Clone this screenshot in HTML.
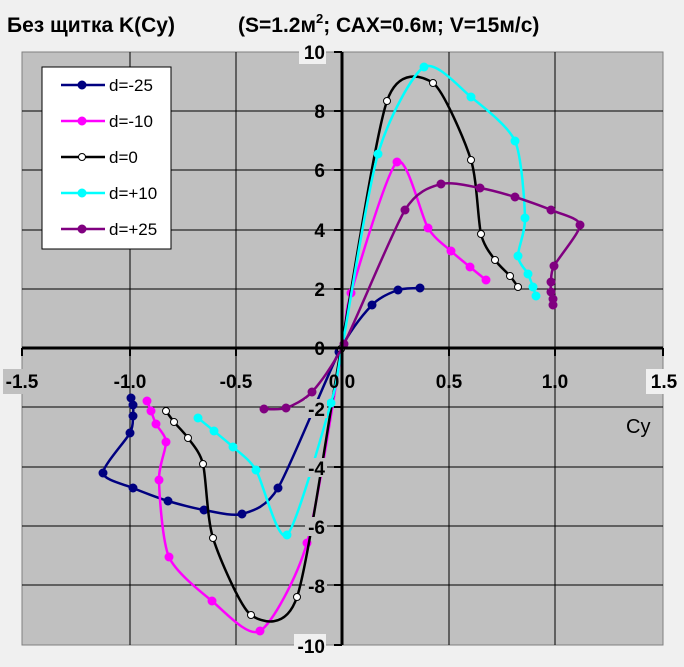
<!DOCTYPE html>
<html><head><meta charset="utf-8"><style>
html,body{margin:0;padding:0;background:#f0f0f0;}
svg{display:block;font-family:"Liberation Sans",Arial,sans-serif;}
</style></head><body>
<svg id="s" width="684" height="667" xmlns="http://www.w3.org/2000/svg">
<rect width="684" height="667" fill="#f0f0f0"/>
<text x="7" y="32" font-size="21" font-weight="bold">Без щитка K(Cy)</text>
<text x="238" y="32" font-size="21" font-weight="bold">(S=1.2м<tspan font-size="13" dy="-9">2</tspan><tspan dy="9">; САХ=0.6м; V=15м/с)</tspan></text>
<rect x="22" y="52" width="641" height="593" fill="#c0c0c0" stroke="#808080" stroke-width="1"/>
<g stroke="#000" stroke-width="1">
<line x1="130" y1="52" x2="130" y2="645"/><line x1="236" y1="52" x2="236" y2="645"/>
<line x1="449" y1="52" x2="449" y2="645"/><line x1="555" y1="52" x2="555" y2="645"/>
<line x1="22" y1="111" x2="663" y2="111"/><line x1="22" y1="170" x2="663" y2="170"/>
<line x1="22" y1="230" x2="663" y2="230"/><line x1="22" y1="289" x2="663" y2="289"/>
<line x1="22" y1="407" x2="663" y2="407"/><line x1="22" y1="467" x2="663" y2="467"/>
<line x1="22" y1="526" x2="663" y2="526"/><line x1="22" y1="585" x2="663" y2="585"/>
</g>
<g id="series"></g>
<g font-size="19" font-weight="bold" text-anchor="end">
<rect x="299" y="41" width="27" height="23" fill="#f0f0f0"/>
<text x="325" y="59">10</text>
<text x="325" y="118">8</text><text x="325" y="177">6</text><text x="325" y="237">4</text><text x="325" y="296">2</text><text x="325" y="355">0</text>
<rect x="305" y="399" width="22" height="19" fill="#c0c0c0"/><text x="325" y="416">-2</text>
<rect x="305" y="458" width="22" height="19" fill="#c0c0c0"/><text x="325" y="475">-4</text>
<rect x="305" y="517" width="22" height="19" fill="#c0c0c0"/><text x="325" y="534">-6</text>
<rect x="305" y="576" width="22" height="19" fill="#c0c0c0"/><text x="325" y="593">-8</text>
<rect x="294" y="634" width="32" height="24" fill="#f0f0f0"/><text x="325" y="653">-10</text>
</g>
<g font-size="19" font-weight="bold" text-anchor="middle">
<rect x="3" y="369" width="40" height="25" fill="#c0c0c0"/>
<text x="22" y="388">-1.5</text><text x="130" y="388">-1.0</text><text x="236" y="388">-0.5</text>
<text x="342" y="388">0.0</text><text x="449" y="388">0.5</text><text x="555" y="388">1.0</text>
<rect x="646" y="369" width="36" height="25" fill="#f0f0f0"/><text x="664" y="388">1.5</text>
</g>
<text x="626" y="433" font-size="20">Cy</text>
<g stroke="#000" stroke-width="3">
<line x1="342" y1="52" x2="342" y2="645"/><line x1="22" y1="348" x2="663" y2="348"/>
</g>
<g stroke="#000" stroke-width="2">
<line x1="22" y1="348" x2="22" y2="356"/><line x1="130" y1="348" x2="130" y2="356"/><line x1="236" y1="348" x2="236" y2="356"/>
<line x1="449" y1="348" x2="449" y2="356"/><line x1="555" y1="348" x2="555" y2="356"/><line x1="663" y1="348" x2="663" y2="356"/>
<line x1="334" y1="52" x2="342" y2="52"/><line x1="334" y1="111" x2="342" y2="111"/><line x1="334" y1="170" x2="342" y2="170"/>
<line x1="334" y1="230" x2="342" y2="230"/><line x1="334" y1="289" x2="342" y2="289"/><line x1="334" y1="407" x2="342" y2="407"/>
<line x1="334" y1="467" x2="342" y2="467"/><line x1="334" y1="526" x2="342" y2="526"/><line x1="334" y1="585" x2="342" y2="585"/>
<line x1="334" y1="645" x2="342" y2="645"/>
</g>
<rect x="42" y="67" width="129" height="182" fill="#fff" stroke="#000" stroke-width="1"/>
<g id="legend" font-size="17"></g>
</svg>
<script>
var NS="http://www.w3.org/2000/svg";
function el(t,a,p){var e=document.createElementNS(NS,t);for(var k in a)e.setAttribute(k,a[k]);p.appendChild(e);return e;}
function smooth(p){var d="M"+p[0][0]+","+p[0][1];for(var i=0;i<p.length-1;i++){var p0=p[i-1]||p[i],p1=p[i],p2=p[i+1],p3=p[i+2]||p2;var t=8;
d+=" C"+(p1[0]+(p2[0]-p0[0])/t)+","+(p1[1]+(p2[1]-p0[1])/t)+" "+(p2[0]-(p3[0]-p1[0])/t)+","+(p2[1]-(p3[1]-p1[1])/t)+" "+p2[0]+","+p2[1];}return d;}
var S=[
["#000080",false,"d=-25",[[131,398],[133,405],[133,416],[130,433],[103,473],[133,488],[168,501],[204,510],[242,514],[278,488],[339,352],[372,305],[398,290],[420,288]]],
["#ff00ff",false,"d=-10",[[147,401],[151,411],[156,424],[166,442],[159,480],[169,557],[212,601],[260,631],[307,543],[342,348],[351,293],[397,162],[428,228],[451,251],[470,267],[486,280]]],
["#000000",true,"d=0",[[166,411],[174,422],[188,438],[203,464],[213,538],[251,615],[297,597],[341,349],[387,101],[433,83],[471,160],[481,234],[495,260],[510,276],[518,287]]],
["#00ffff",false,"d=+10",[[198,418],[214,431],[233,447],[256,470],[287,535],[331,403],[342,348],[378,154],[424,67],[471,97],[515,141],[525,218],[518,256],[528,274],[533,287],[536,296]]],
["#800080",false,"d=+25",[[264,409],[286,408],[312,392],[344,344],[405,210],[441,184],[480,188],[515,197],[551,210],[580,225],[554,266],[551,282],[551,292],[553,299],[553,305]]]
];
var g=document.getElementById("series"),lg=document.getElementById("legend");
S.forEach(function(s,i){
 el("path",{d:smooth(s[3]),fill:"none",stroke:s[0],"stroke-width":2.5},g);
 s[3].forEach(function(p){ if(p[0]==342&&p[1]==348)return;
  el("circle",{cx:p[0],cy:p[1],r:s[1]?3.5:4,fill:s[1]?"#fff":s[0],stroke:s[1]?"#000":s[0],"stroke-width":1},g);});
 var y=85+36*i;
 el("line",{x1:61,y1:y,x2:105,y2:y,stroke:s[0],"stroke-width":2.5},lg);
 el("circle",{cx:82,cy:y,r:s[1]?3.5:4,fill:s[1]?"#fff":s[0],stroke:s[1]?"#000":s[0]},lg);
 var t=el("text",{x:109,y:y+6},lg);t.textContent=s[2];
});
</script>
</body></html>
